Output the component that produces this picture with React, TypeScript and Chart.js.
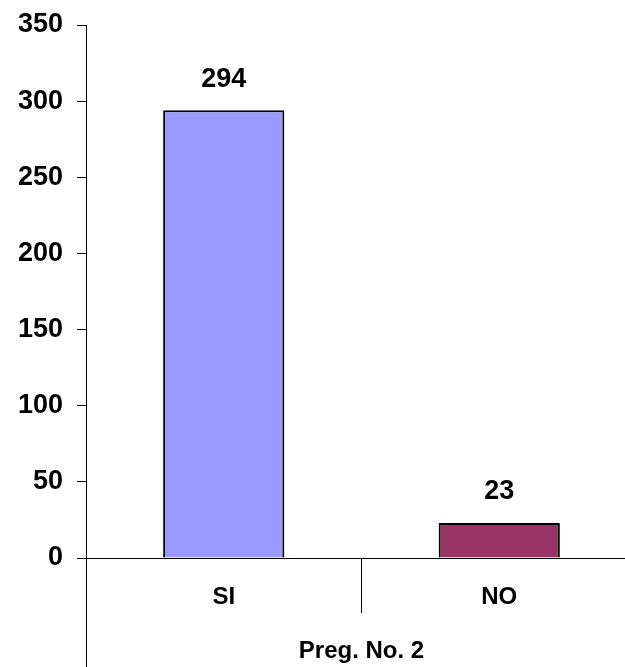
import React, { useEffect, useRef } from "react";
import { Chart, registerables } from "chart.js";

Chart.register(...registerables);

const categories = ["SI", "NO"];
const values = [294, 23];
const barColors = ["#9999FF", "#993366"];
const yTicks = { min: 0, max: 350, step: 50 };
const axisTitle = "Preg. No. 2";

const FONT = "'Liberation Sans', Arial, Helvetica, sans-serif";

// Value labels above each bar, plus the y axis line continued below the x axis.
const extrasPlugin = {
  id: "extras",
  afterDatasetsDraw(chart: any) {
    const { ctx, chartArea } = chart;
    ctx.save();
    // y axis continuation
    ctx.strokeStyle = "#000";
    ctx.lineWidth = 1;
    const x = Math.round(chartArea.left) + 0.5;
    ctx.beginPath();
    ctx.moveTo(x, chartArea.bottom);
    ctx.lineTo(x, chart.height);
    ctx.stroke();

    // value labels
    const meta = chart.getDatasetMeta(0);
    ctx.fillStyle = "#000";
    ctx.font = `bold 27px ${FONT}`;
    ctx.textAlign = "center";
    ctx.textBaseline = "middle";
    meta.data.forEach((bar: any, i: number) => {
      ctx.fillText(String(values[i]), bar.x, bar.y - 31);
    });
    ctx.restore();
  },
};

export default function App() {
  const canvasRef = useRef<HTMLCanvasElement | null>(null);

  useEffect(() => {
    if (!canvasRef.current) return;
    const chart = new Chart(canvasRef.current, {
      type: "bar",
      data: {
        labels: categories,
        datasets: [
          {
            data: values,
            backgroundColor: barColors,
            borderColor: "#000",
            borderWidth: 2,
            barPercentage: 0.44,
            categoryPercentage: 1,
          },
        ],
      },
      options: {
        responsive: false,
        animation: false,
        events: [],
        layout: { padding: { top: 25, left: 0, right: 0, bottom: 0 } },
        plugins: {
          legend: { display: false },
          tooltip: { enabled: false },
        },
        scales: {
          x: {
            offset: true,
            grid: {
              offset: true,
              drawOnChartArea: false,
              tickLength: 55,
              color: "#000",
            },
            border: { display: true, color: "#000", width: 1 },
            ticks: {
              color: "#000",
              font: { family: FONT, size: 24, weight: "bold" },
              padding: -30,
            },
            title: {
              display: true,
              text: axisTitle,
              color: "#000",
              font: { family: FONT, size: 24, weight: "bold" },
              padding: { top: 0, bottom: 1 },
            },
            afterFit: (s: any) => {
              s.height = 109;
              s.paddingLeft = 0;
              s.paddingRight = 0;
            },
          },
          y: {
            min: yTicks.min,
            max: yTicks.max,
            grid: {
              drawOnChartArea: false,
              tickLength: 9,
              color: "#000",
            },
            border: { display: true, color: "#000", width: 1 },
            ticks: {
              stepSize: yTicks.step,
              color: "#000",
              font: { family: FONT, size: 27, weight: "bold" },
              padding: 14,
            },
            afterFit: (s: any) => {
              s.width = 86;
              s.paddingTop = 0;
              s.paddingBottom = 0;
            },
          },
        },
      },
      plugins: [extrasPlugin],
    });
    return () => chart.destroy();
  }, []);

  return (
    <div
      style={{
        position: "fixed",
        left: 0,
        top: 0,
        width: 625,
        height: 667,
        overflow: "hidden",
        background: "#fff",
      }}
    >
      <canvas ref={canvasRef} width={637} height={667} style={{ display: "block" }} />
    </div>
  );
}
